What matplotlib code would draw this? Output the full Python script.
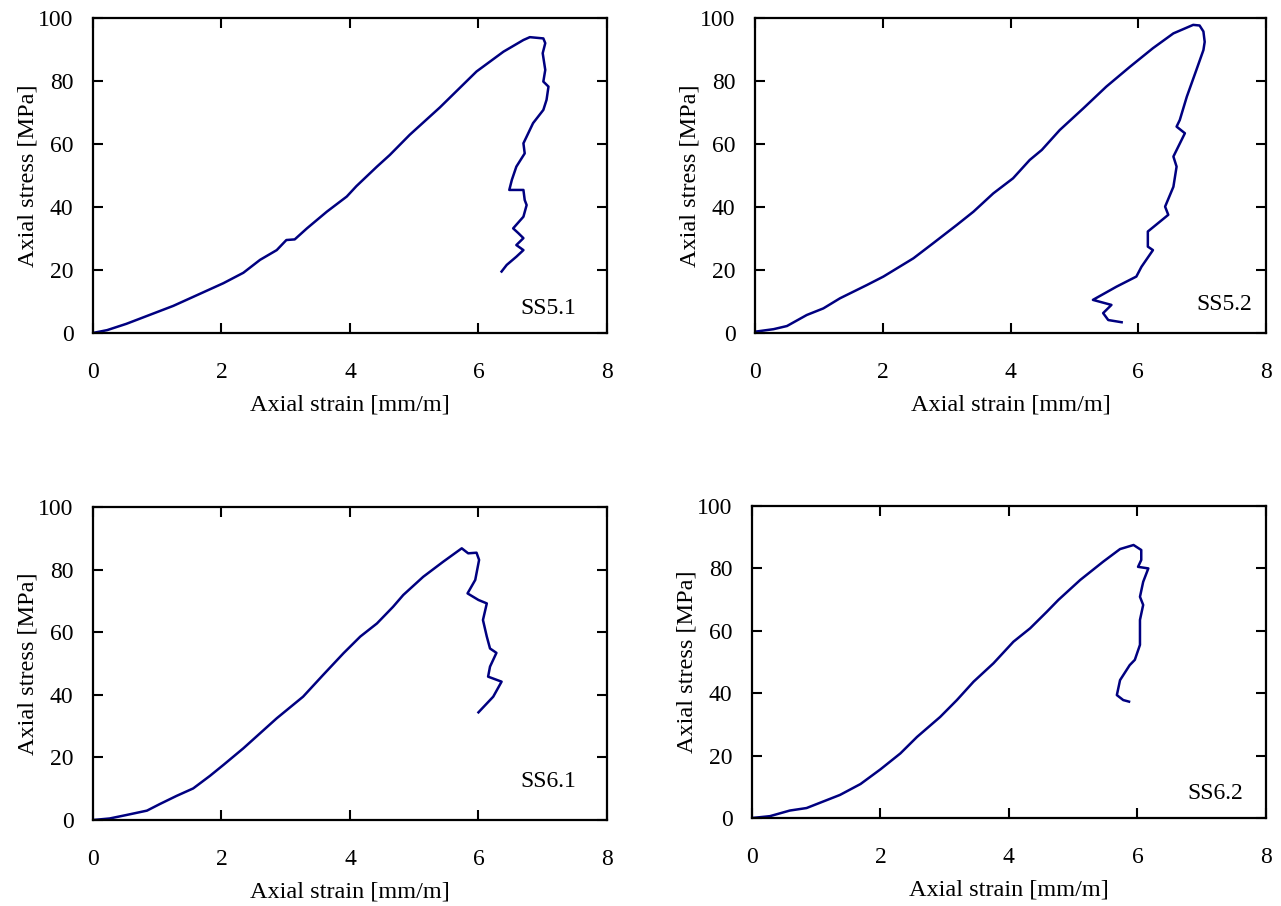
import matplotlib
matplotlib.use("Agg")
import matplotlib.pyplot as plt

# SS5.1
strain_51 = [0.0, 0.22, 0.52, 1.25, 2.03, 2.34, 2.60, 2.86, 3.01, 3.14, 3.33, 3.64, 3.95, 4.10,
             4.42, 4.62, 4.93, 5.40, 5.97, 6.39, 6.70, 6.80, 7.01, 7.04, 7.00, 7.04, 7.01, 7.09,
             7.06, 7.01, 6.85, 6.70, 6.72, 6.59, 6.52, 6.48, 6.70, 6.72, 6.75, 6.70, 6.54, 6.62,
             6.70, 6.59, 6.70, 6.59, 6.44, 6.36]
stress_51 = [0.0, 0.9, 2.9, 8.6, 15.8, 19.1, 23.2, 26.3, 29.5, 29.7, 33.2, 38.5, 43.3, 46.6,
             52.8, 56.5, 62.9, 71.6, 83.0, 89.3, 93.0, 93.9, 93.5, 92.0, 88.8, 83.5, 79.8, 78.2,
             74.0, 70.8, 66.6, 60.2, 57.0, 52.8, 48.6, 45.4, 45.4, 42.2, 40.6, 36.9, 33.2, 31.7,
             30.1, 27.9, 26.3, 24.2, 21.6, 19.5]

# SS5.2
strain_52 = [0.0, 0.29, 0.50, 0.81, 1.07, 1.33, 1.75, 2.01, 2.48, 2.79, 3.16, 3.42, 3.73, 4.04,
             4.30, 4.49, 4.77, 5.14, 5.50, 5.87, 6.23, 6.55, 6.86, 6.96, 7.02, 7.04, 7.02, 6.91,
             6.76, 6.65, 6.60, 6.73, 6.55, 6.60, 6.55, 6.42, 6.47, 6.15, 6.15, 6.23, 6.05, 5.97,
             5.66, 5.29, 5.58, 5.45, 5.53, 5.74]
stress_52 = [0.4, 1.2, 2.2, 5.7, 7.8, 11.0, 15.2, 17.9, 23.7, 28.5, 34.3, 38.5, 44.3, 49.1,
             54.9, 58.1, 64.4, 71.3, 78.2, 84.5, 90.4, 95.1, 97.8, 97.6, 95.7, 92.4, 89.8, 83.5,
             75.0, 67.6, 65.5, 63.4, 56.0, 52.8, 46.4, 40.1, 37.5, 32.2, 27.4, 26.3, 21.0, 17.9,
             14.7, 10.5, 8.9, 6.3, 4.1, 3.4]

# SS6.1
strain_61 = [0.0, 0.26, 0.52, 0.84, 1.04, 1.30, 1.56, 1.82, 2.03, 2.34, 2.60, 2.86, 3.27, 3.58,
             3.90, 4.16, 4.42, 4.67, 4.83, 5.14, 5.45, 5.74, 5.84, 5.97, 6.01, 5.95, 5.83, 6.00,
             6.13, 6.07, 6.13, 6.18, 6.28, 6.18, 6.15, 6.36, 6.23, 6.00]
stress_61 = [0.0, 0.5, 1.6, 3.0, 5.1, 7.7, 10.1, 14.1, 17.6, 22.9, 27.7, 32.5, 39.4, 46.3,
             53.3, 58.6, 62.8, 68.1, 71.9, 77.7, 82.5, 86.8, 85.2, 85.4, 83.1, 76.7, 72.4, 70.3,
             69.2, 63.9, 58.6, 54.8, 53.4, 49.0, 45.8, 44.2, 39.4, 34.4]

# SS6.2
strain_62 = [0.0, 0.28, 0.59, 0.85, 1.11, 1.37, 1.69, 2.00, 2.31, 2.57, 2.93, 3.19, 3.45, 3.76,
             4.07, 4.33, 4.59, 4.77, 5.11, 5.47, 5.73, 5.94, 6.06, 6.06, 6.01, 6.17, 6.09, 6.04,
             6.09, 6.04, 6.04, 5.96, 5.88, 5.73, 5.68, 5.78, 5.87]
stress_62 = [0.0, 0.6, 2.4, 3.2, 5.3, 7.4, 10.9, 15.6, 20.7, 26.0, 32.4, 37.8, 43.7, 49.6,
             56.5, 60.8, 66.1, 69.9, 76.3, 82.2, 86.2, 87.5, 85.9, 82.7, 80.5, 80.0, 75.7, 70.9,
             68.3, 63.5, 55.5, 50.7, 49.0, 44.2, 39.4, 37.8, 37.3]

names = ["SS5.1", "SS5.2", "SS6.1", "SS6.2"]
curves = [(strain_51, stress_51), (strain_52, stress_52), (strain_61, stress_61), (strain_62, stress_62)]
label_pos = [(7.53, 7.8), (7.79, 8.9), (7.53, 12.2), (7.65, 8.0)]

x_ticks = [0, 2, 4, 6, 8]
y_ticks = [0, 20, 40, 60, 80, 100]

plt.rcParams['font.family'] = ['Liberation Serif', 'DejaVu Serif']
fs = 17

fig = plt.figure(figsize=(12.81, 9.06), dpi=100)
rects = [
    [0.0726, 0.6325, 0.4012, 0.3477],
    [0.5894, 0.6325, 0.3989, 0.3477],
    [0.0726, 0.0949, 0.4012, 0.3455],
    [0.5870, 0.0971, 0.4012, 0.3444],
]

for rect, name, (sx, sy), (lx, ly) in zip(rects, names, curves, label_pos):
    ax = fig.add_axes(rect)
    ax.plot(sx, sy, color='#000080', lw=1.8)
    ax.set_xlim(0, 8)
    ax.set_ylim(0, 100)
    ax.set_xticks(x_ticks)
    ax.set_yticks(y_ticks)
    ax.tick_params(axis='both', direction='in', top=True, right=True, length=7, width=1.5,
                   labelsize=fs)
    ax.tick_params(axis='x', pad=21)
    ax.tick_params(axis='y', pad=14)
    for sp in ax.spines.values():
        sp.set_linewidth(1.6)
    ax.set_xlabel("Axial strain [mm/m]", fontsize=17.5, labelpad=8)
    ax.set_ylabel("Axial stress [MPa]", fontsize=17.5, labelpad=0)
    ax.text(lx, ly, name, fontsize=fs, ha='right', va='center')

fig.savefig("out.png", dpi=100)
